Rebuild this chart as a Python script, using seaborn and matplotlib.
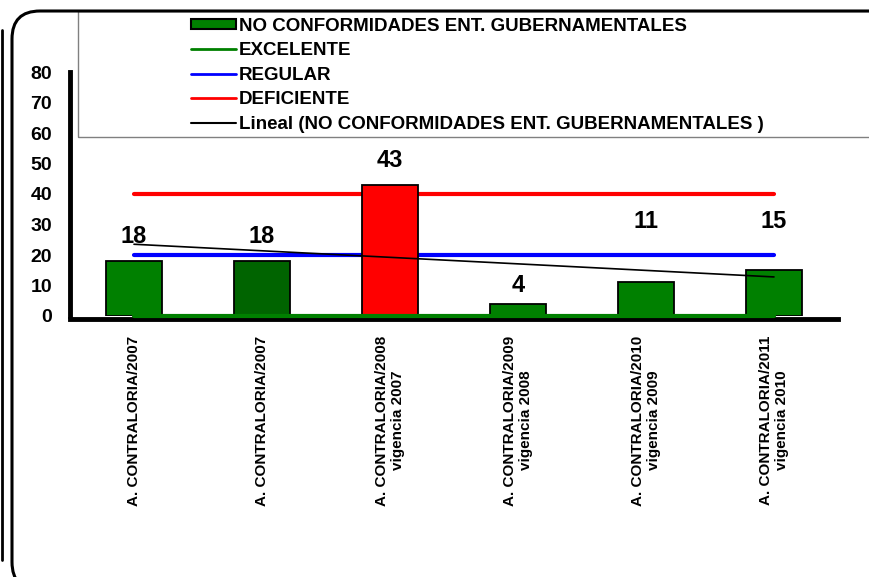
import numpy as np
import pandas as pd
import matplotlib
matplotlib.use("Agg")
import matplotlib.pyplot as plt
import seaborn as sns
from matplotlib.patches import Rectangle, FancyBboxPatch, Patch
from matplotlib.lines import Line2D

# ---- data ----
categories = [
    "A. CONTRALORIA/2007",
    "A. CONTRALORIA/2007",
    "A. CONTRALORIA/2008\nvigencia 2007",
    "A. CONTRALORIA/2009\nvigencia 2008",
    "A. CONTRALORIA/2010\nvigencia 2009",
    "A. CONTRALORIA/2011\nvigencia 2010",
]
no_conformidades = [18, 18, 43, 4, 11, 15]
excelente = [0, 0, 0, 0, 0, 0]
regular = [20, 20, 20, 20, 20, 20]
deficiente = [40, 40, 40, 40, 40, 40]
label_y = [26, 26, 51, 10, 31, 31]
bar_colors = ["#008000", "#006400", "#FF0000", "#008000", "#008000", "#008000"]
yticks = [0, 10, 20, 30, 40, 50, 60, 70, 80]

series_name = "NO CONFORMIDADES ENT. GUBERNAMENTALES"
trend_name = "Lineal (NO CONFORMIDADES ENT. GUBERNAMENTALES )"

sns.set_theme(style="white")
plt.rcParams["font.family"] = ["Liberation Sans", "DejaVu Sans"]
plt.rcParams["font.weight"] = "bold"
for k in ["text.color", "axes.labelcolor", "xtick.color", "ytick.color"]:
    plt.rcParams[k] = "black"

W, H = 869, 577
fig = plt.figure(figsize=(W / 100, H / 100), dpi=100)
ax = fig.add_axes([70 / W, 1 - 316 / H, 768 / W, (316 - 72) / H])

idx = np.arange(len(categories))
df = pd.DataFrame({"idx": idx.astype(str), "value": no_conformidades})
sns.barplot(data=df, x="idx", y="value", hue="idx", palette=bar_colors,
            legend=False, width=0.44, edgecolor="black", linewidth=1.3,
            saturation=1, ax=ax, zorder=3)

lines_df = pd.DataFrame({"x": idx, "exc": excelente, "reg": regular, "def": deficiente})
sns.lineplot(data=lines_df, x="x", y="def", color="#FF0000", lw=3, ax=ax, zorder=2)
sns.lineplot(data=lines_df, x="x", y="reg", color="#0000FF", lw=3, ax=ax, zorder=2)
sns.lineplot(data=lines_df, x="x", y="exc", color="#008000", lw=3, ax=ax, zorder=5, clip_on=False)

coef = np.polyfit(idx, no_conformidades, 1)
trend = np.polyval(coef, idx)
sns.lineplot(x=idx, y=trend, color="black", lw=1.2, ax=ax, zorder=6)

for i, (v, ly) in enumerate(zip(no_conformidades, label_y)):
    ax.text(i, ly, str(v), ha="center", va="center", fontsize=17,
            fontweight="bold", color="black", zorder=7)

ax.set_xlim(-0.5, 5.5)
ax.set_ylim(0, 80)
ax.set_yticks(yticks)
ax.set_yticklabels([str(t) for t in yticks], fontsize=14, fontweight="bold")
ax.set_xticks(idx)
ax.set_xticklabels(categories, fontsize=11, fontweight="bold", linespacing=1.0)
ax.set_xticks(np.arange(-0.5, 6, 1), minor=True)
ax.tick_params(axis="x", which="major", length=0, pad=12, labelrotation=90)
for t in ax.get_xticklabels():
    t.set_ha("center")
    t.set_va("top")
    t.set_multialignment("center")
    t.set_color("black")
ax.tick_params(axis="x", which="minor", length=4, width=2, direction="out", color="black")
ax.tick_params(axis="y", length=5, width=3, direction="out", color="black", pad=8)
ax.set_xlabel("")
ax.set_ylabel("")
ax.grid(False)
for s in ["top", "right"]:
    ax.spines[s].set_visible(False)
ax.spines["left"].set_linewidth(3.5)
ax.spines["left"].set_color("black")
ax.spines["bottom"].set_linewidth(3.5)
ax.spines["bottom"].set_color("black")
ax.spines["bottom"].set_position(("outward", 2))

# legend box
fig.patches.append(Rectangle((78 / W, 1 - 137 / H), 1.0, 126 / H,
                             transform=fig.transFigure, fill=False,
                             edgecolor="#808080", lw=1.0, zorder=1))
handles = [
    Patch(facecolor="#008000", edgecolor="black", lw=1.5),
    Line2D([], [], color="#008000", lw=2),
    Line2D([], [], color="#0000FF", lw=2),
    Line2D([], [], color="#FF0000", lw=2),
    Line2D([], [], color="black", lw=1.5),
]
labels = [series_name, "EXCELENTE", "REGULAR", "DEFICIENTE", trend_name]
leg = fig.legend(handles, labels, loc="upper left",
                 bbox_to_anchor=(187 / W, 1 - 14 / H), frameon=False,
                 prop={"weight": "bold", "size": 13.5}, handlelength=2.4,
                 handleheight=0.5, handletextpad=0.15, labelspacing=0.4,
                 borderaxespad=0, borderpad=0.2)
for t in leg.get_texts():
    t.set_color("black")

# outer rounded frame (pixel coordinates)
frame = FancyBboxPatch((12, H - 590), 900, 590 - 11,
                       boxstyle="round,pad=0,rounding_size=28",
                       transform=None, fill=False, edgecolor="black", lw=2.2)
fig.patches.append(frame)
fig.add_artist(Line2D([2 / W, 2 / W], [1 - 30 / H, 1 - 560 / H],
                      transform=fig.transFigure, color="black", lw=2))

fig.savefig("out.png", dpi=100)
